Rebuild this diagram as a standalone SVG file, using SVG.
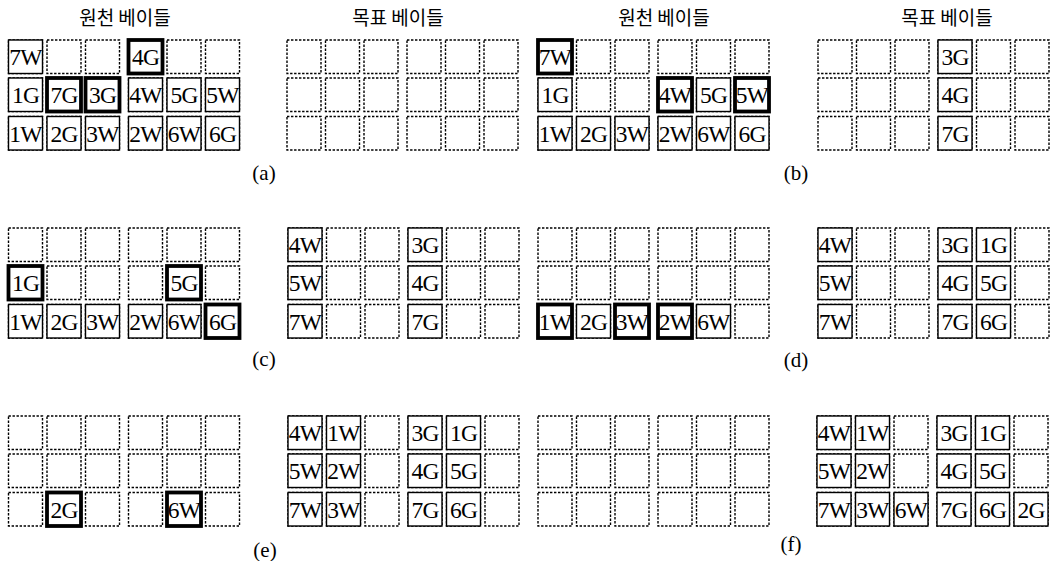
<svg xmlns="http://www.w3.org/2000/svg" xmlns:xlink="http://www.w3.org/1999/xlink" width="1051" height="561" viewBox="0 0 1051 561">
<style>
.d{fill:none;stroke:#000;stroke-width:1.4;stroke-dasharray:2.4 1.6}
.s{fill:#fff;stroke:#000;stroke-width:1.4}
.t{fill:#fff;stroke:#000;stroke-width:3.8}
.c{font-family:"Liberation Serif",serif;font-size:23.5px;letter-spacing:-0.8px;text-anchor:middle;fill:#000}
.h{font-family:"Noto Sans CJK KR",sans-serif;font-size:19px;text-anchor:middle;fill:#000}
.l{font-family:"Liberation Serif",serif;font-size:21px;text-anchor:middle;fill:#000}
</style>
<defs>
<g id="grid">
<rect class="d" x="0" y="0" width="34" height="33.5"/><rect class="d" x="38.5" y="0" width="34" height="33.5"/><rect class="d" x="77" y="0" width="34" height="33.5"/><rect class="d" x="120" y="0" width="34" height="33.5"/><rect class="d" x="158.5" y="0" width="34" height="33.5"/><rect class="d" x="197" y="0" width="34" height="33.5"/>
<rect class="d" x="0" y="38" width="34" height="33.5"/><rect class="d" x="38.5" y="38" width="34" height="33.5"/><rect class="d" x="77" y="38" width="34" height="33.5"/><rect class="d" x="120" y="38" width="34" height="33.5"/><rect class="d" x="158.5" y="38" width="34" height="33.5"/><rect class="d" x="197" y="38" width="34" height="33.5"/>
<rect class="d" x="0" y="76.5" width="34" height="33.5"/><rect class="d" x="38.5" y="76.5" width="34" height="33.5"/><rect class="d" x="77" y="76.5" width="34" height="33.5"/><rect class="d" x="120" y="76.5" width="34" height="33.5"/><rect class="d" x="158.5" y="76.5" width="34" height="33.5"/><rect class="d" x="197" y="76.5" width="34" height="33.5"/>
</g>
</defs>
<rect width="1051" height="561" fill="#fff"/>

<g id="titles">
<text class="h" x="125" y="25">원천 베이들</text>
<text class="h" x="398" y="25">목표 베이들</text>
<text class="h" x="664" y="25">원천 베이들</text>
<text class="h" x="947" y="25">목표 베이들</text>
</g>

<g id="labels">
<text class="l" x="264" y="180">(a)</text>
<text class="l" x="796" y="180">(b)</text>
<text class="l" x="264" y="366">(c)</text>
<text class="l" x="796" y="367">(d)</text>
<text class="l" x="265" y="557">(e)</text>
<text class="l" x="791" y="551">(f)</text>
</g>

<g id="a-source" transform="translate(8.5,40)">
<use href="#grid"/>
<rect class="s" x="0" y="0" width="34" height="33.5"/><text class="c" x="17" y="25">7W</text>
<rect class="t" x="120" y="0" width="34" height="33.5"/><text class="c" x="137" y="25">4G</text>
<rect class="s" x="0" y="38" width="34" height="33.5"/><text class="c" x="17" y="63">1G</text>
<rect class="t" x="38.5" y="38" width="34" height="33.5"/><text class="c" x="55.5" y="63">7G</text>
<rect class="t" x="77" y="38" width="34" height="33.5"/><text class="c" x="94" y="63">3G</text>
<rect class="s" x="120" y="38" width="34" height="33.5"/><text class="c" x="137" y="63">4W</text>
<rect class="s" x="158.5" y="38" width="34" height="33.5"/><text class="c" x="175.5" y="63">5G</text>
<rect class="s" x="197" y="38" width="34" height="33.5"/><text class="c" x="214" y="63">5W</text>
<rect class="s" x="0" y="76.5" width="34" height="33.5"/><text class="c" x="17" y="101.5">1W</text>
<rect class="s" x="38.5" y="76.5" width="34" height="33.5"/><text class="c" x="55.5" y="101.5">2G</text>
<rect class="s" x="77" y="76.5" width="34" height="33.5"/><text class="c" x="94" y="101.5">3W</text>
<rect class="s" x="120" y="76.5" width="34" height="33.5"/><text class="c" x="137" y="101.5">2W</text>
<rect class="s" x="158.5" y="76.5" width="34" height="33.5"/><text class="c" x="175.5" y="101.5">6W</text>
<rect class="s" x="197" y="76.5" width="34" height="33.5"/><text class="c" x="214" y="101.5">6G</text>
</g>

<g id="a-target" transform="translate(287,40)">
<use href="#grid"/>
</g>

<g id="b-source" transform="translate(538,40)">
<use href="#grid"/>
<rect class="t" x="0" y="0" width="34" height="33.5"/><text class="c" x="17" y="25">7W</text>
<rect class="s" x="0" y="38" width="34" height="33.5"/><text class="c" x="17" y="63">1G</text>
<rect class="t" x="120" y="38" width="34" height="33.5"/><text class="c" x="137" y="63">4W</text>
<rect class="s" x="158.5" y="38" width="34" height="33.5"/><text class="c" x="175.5" y="63">5G</text>
<rect class="t" x="197" y="38" width="34" height="33.5"/><text class="c" x="214" y="63">5W</text>
<rect class="s" x="0" y="76.5" width="34" height="33.5"/><text class="c" x="17" y="101.5">1W</text>
<rect class="s" x="38.5" y="76.5" width="34" height="33.5"/><text class="c" x="55.5" y="101.5">2G</text>
<rect class="s" x="77" y="76.5" width="34" height="33.5"/><text class="c" x="94" y="101.5">3W</text>
<rect class="s" x="120" y="76.5" width="34" height="33.5"/><text class="c" x="137" y="101.5">2W</text>
<rect class="s" x="158.5" y="76.5" width="34" height="33.5"/><text class="c" x="175.5" y="101.5">6W</text>
<rect class="s" x="197" y="76.5" width="34" height="33.5"/><text class="c" x="214" y="101.5">6G</text>
</g>

<g id="b-target" transform="translate(818,40)">
<use href="#grid"/>
<rect class="s" x="120" y="0" width="34" height="33.5"/><text class="c" x="137" y="25">3G</text>
<rect class="s" x="120" y="38" width="34" height="33.5"/><text class="c" x="137" y="63">4G</text>
<rect class="s" x="120" y="76.5" width="34" height="33.5"/><text class="c" x="137" y="101.5">7G</text>
</g>

<g id="c-source" transform="translate(8.5,228)">
<use href="#grid"/>
<rect class="t" x="0" y="38" width="34" height="33.5"/><text class="c" x="17" y="63">1G</text>
<rect class="t" x="158.5" y="38" width="34" height="33.5"/><text class="c" x="175.5" y="63">5G</text>
<rect class="s" x="0" y="76.5" width="34" height="33.5"/><text class="c" x="17" y="101.5">1W</text>
<rect class="s" x="38.5" y="76.5" width="34" height="33.5"/><text class="c" x="55.5" y="101.5">2G</text>
<rect class="s" x="77" y="76.5" width="34" height="33.5"/><text class="c" x="94" y="101.5">3W</text>
<rect class="s" x="120" y="76.5" width="34" height="33.5"/><text class="c" x="137" y="101.5">2W</text>
<rect class="s" x="158.5" y="76.5" width="34" height="33.5"/><text class="c" x="175.5" y="101.5">6W</text>
<rect class="t" x="197" y="76.5" width="34" height="33.5"/><text class="c" x="214" y="101.5">6G</text>
</g>

<g id="c-target" transform="translate(288,228)">
<use href="#grid"/>
<rect class="s" x="0" y="0" width="34" height="33.5"/><text class="c" x="17" y="25">4W</text>
<rect class="s" x="120" y="0" width="34" height="33.5"/><text class="c" x="137" y="25">3G</text>
<rect class="s" x="0" y="38" width="34" height="33.5"/><text class="c" x="17" y="63">5W</text>
<rect class="s" x="120" y="38" width="34" height="33.5"/><text class="c" x="137" y="63">4G</text>
<rect class="s" x="0" y="76.5" width="34" height="33.5"/><text class="c" x="17" y="101.5">7W</text>
<rect class="s" x="120" y="76.5" width="34" height="33.5"/><text class="c" x="137" y="101.5">7G</text>
</g>

<g id="d-source" transform="translate(538,228)">
<use href="#grid"/>
<rect class="t" x="0" y="76.5" width="34" height="33.5"/><text class="c" x="17" y="101.5">1W</text>
<rect class="s" x="38.5" y="76.5" width="34" height="33.5"/><text class="c" x="55.5" y="101.5">2G</text>
<rect class="t" x="77" y="76.5" width="34" height="33.5"/><text class="c" x="94" y="101.5">3W</text>
<rect class="t" x="120" y="76.5" width="34" height="33.5"/><text class="c" x="137" y="101.5">2W</text>
<rect class="s" x="158.5" y="76.5" width="34" height="33.5"/><text class="c" x="175.5" y="101.5">6W</text>
</g>

<g id="d-target" transform="translate(818,228)">
<use href="#grid"/>
<rect class="s" x="0" y="0" width="34" height="33.5"/><text class="c" x="17" y="25">4W</text>
<rect class="s" x="120" y="0" width="34" height="33.5"/><text class="c" x="137" y="25">3G</text>
<rect class="s" x="158.5" y="0" width="34" height="33.5"/><text class="c" x="175.5" y="25">1G</text>
<rect class="s" x="0" y="38" width="34" height="33.5"/><text class="c" x="17" y="63">5W</text>
<rect class="s" x="120" y="38" width="34" height="33.5"/><text class="c" x="137" y="63">4G</text>
<rect class="s" x="158.5" y="38" width="34" height="33.5"/><text class="c" x="175.5" y="63">5G</text>
<rect class="s" x="0" y="76.5" width="34" height="33.5"/><text class="c" x="17" y="101.5">7W</text>
<rect class="s" x="120" y="76.5" width="34" height="33.5"/><text class="c" x="137" y="101.5">7G</text>
<rect class="s" x="158.5" y="76.5" width="34" height="33.5"/><text class="c" x="175.5" y="101.5">6G</text>
</g>

<g id="e-source" transform="translate(8.5,416)">
<use href="#grid"/>
<rect class="t" x="38.5" y="76.5" width="34" height="33.5"/><text class="c" x="55.5" y="101.5">2G</text>
<rect class="t" x="158.5" y="76.5" width="34" height="33.5"/><text class="c" x="175.5" y="101.5">6W</text>
</g>

<g id="e-target" transform="translate(288,416)">
<use href="#grid"/>
<rect class="s" x="0" y="0" width="34" height="33.5"/><text class="c" x="17" y="25">4W</text>
<rect class="s" x="38.5" y="0" width="34" height="33.5"/><text class="c" x="55.5" y="25">1W</text>
<rect class="s" x="120" y="0" width="34" height="33.5"/><text class="c" x="137" y="25">3G</text>
<rect class="s" x="158.5" y="0" width="34" height="33.5"/><text class="c" x="175.5" y="25">1G</text>
<rect class="s" x="0" y="38" width="34" height="33.5"/><text class="c" x="17" y="63">5W</text>
<rect class="s" x="38.5" y="38" width="34" height="33.5"/><text class="c" x="55.5" y="63">2W</text>
<rect class="s" x="120" y="38" width="34" height="33.5"/><text class="c" x="137" y="63">4G</text>
<rect class="s" x="158.5" y="38" width="34" height="33.5"/><text class="c" x="175.5" y="63">5G</text>
<rect class="s" x="0" y="76.5" width="34" height="33.5"/><text class="c" x="17" y="101.5">7W</text>
<rect class="s" x="38.5" y="76.5" width="34" height="33.5"/><text class="c" x="55.5" y="101.5">3W</text>
<rect class="s" x="120" y="76.5" width="34" height="33.5"/><text class="c" x="137" y="101.5">7G</text>
<rect class="s" x="158.5" y="76.5" width="34" height="33.5"/><text class="c" x="175.5" y="101.5">6G</text>
</g>

<g id="f-source" transform="translate(538,416)">
<use href="#grid"/>
</g>

<g id="f-target" transform="translate(817,416)">
<use href="#grid"/>
<rect class="s" x="0" y="0" width="34" height="33.5"/><text class="c" x="17" y="25">4W</text>
<rect class="s" x="38.5" y="0" width="34" height="33.5"/><text class="c" x="55.5" y="25">1W</text>
<rect class="s" x="120" y="0" width="34" height="33.5"/><text class="c" x="137" y="25">3G</text>
<rect class="s" x="158.5" y="0" width="34" height="33.5"/><text class="c" x="175.5" y="25">1G</text>
<rect class="s" x="0" y="38" width="34" height="33.5"/><text class="c" x="17" y="63">5W</text>
<rect class="s" x="38.5" y="38" width="34" height="33.5"/><text class="c" x="55.5" y="63">2W</text>
<rect class="s" x="120" y="38" width="34" height="33.5"/><text class="c" x="137" y="63">4G</text>
<rect class="s" x="158.5" y="38" width="34" height="33.5"/><text class="c" x="175.5" y="63">5G</text>
<rect class="s" x="0" y="76.5" width="34" height="33.5"/><text class="c" x="17" y="101.5">7W</text>
<rect class="s" x="38.5" y="76.5" width="34" height="33.5"/><text class="c" x="55.5" y="101.5">3W</text>
<rect class="s" x="77" y="76.5" width="34" height="33.5"/><text class="c" x="94" y="101.5">6W</text>
<rect class="s" x="120" y="76.5" width="34" height="33.5"/><text class="c" x="137" y="101.5">7G</text>
<rect class="s" x="158.5" y="76.5" width="34" height="33.5"/><text class="c" x="175.5" y="101.5">6G</text>
<rect class="s" x="197" y="76.5" width="34" height="33.5"/><text class="c" x="214" y="101.5">2G</text>
</g>
</svg>
